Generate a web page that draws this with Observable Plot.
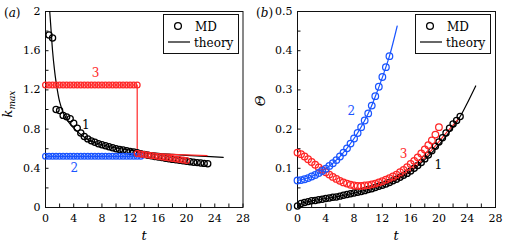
<!DOCTYPE html>
<html><head><meta charset="utf-8">
<script src="https://cdn.jsdelivr.net/npm/d3@7"></script>
<script src="https://cdn.jsdelivr.net/npm/@observablehq/plot@0.6"></script>
<style>
body{margin:0;background:#fff;}
#fig{position:relative;width:506px;height:243px;font-family:'DejaVu Serif',serif;}
.panel{position:absolute;top:0;}
#over{position:absolute;left:0;top:0;pointer-events:none;}
</style></head><body>
<div id="fig"><div id="pa" class="panel" style="left:0"></div><div id="pb" class="panel" style="left:253px"></div></div>
<script>
// ---------- colours ----------
const RED = "#ff2626", BLUE = "#1a55ff", BLACK = "#000";

// ---------- ticks ----------
const xMajor = [0, 4, 8, 12, 16, 20, 24, 28];
const xMinor = [2, 6, 10, 14, 18, 22, 26];
const yMajorA = [0, 0.4, 0.8, 1.2, 1.6, 2];
const yMinorA = [0.2, 0.6, 1.0, 1.4, 1.8];
const yMajorB = [0, 0.1, 0.2, 0.3, 0.4, 0.5];
const yMinorB = [0.05, 0.15, 0.25, 0.35, 0.45];

// ---------- panel (a): k_max ----------
const tA_md1 = [0.5,1,1.5,2,2.5,3,3.5,4,4.5,5,5.5,6,6.5,7,7.5,8,8.5,9,9.5,10,10.5,11,11.5,12,12.5,13,13.5,14,14.5,15,15.5,16,16.5,17,17.5,18,18.5,19,19.5,20,20.5,21,21.5,22,22.5,23];
const kA_md1 = [1.76,1.73,1.00,0.99,0.94,0.925,0.905,0.86,0.81,0.76,0.725,0.70,0.68,0.665,0.65,0.64,0.63,0.62,0.61,0.60,0.593,0.586,0.579,0.572,0.566,0.558,0.548,0.541,0.534,0.527,0.521,0.515,0.509,0.503,0.497,0.491,0.486,0.481,0.476,0.471,0.466,0.462,0.458,0.454,0.45,0.446];
const tA_md2 = [0,0.5,1,1.5,2,2.5,3,3.5,4,4.5,5,5.5,6,6.5,7,7.5,8,8.5,9,9.5,10,10.5,11,11.5,12,12.5,13,13.5];
const kA_md2 = [0.522,0.522,0.522,0.522,0.522,0.522,0.522,0.522,0.522,0.522,0.522,0.522,0.522,0.522,0.522,0.522,0.522,0.522,0.522,0.522,0.522,0.522,0.522,0.522,0.522,0.522,0.522,0.522];
const tA_md3 = [0,0.5,1,1.5,2,2.5,3,3.5,4,4.5,5,5.5,6,6.5,7,7.5,8,8.5,9,9.5,10,10.5,11,11.5,12,12.5,13,13,13.5,14,14.5,15,15.5,16,16.5,17,17.5,18,18.5,19,19.5,20];
const kA_md3 = [1.25,1.25,1.25,1.25,1.25,1.25,1.25,1.25,1.25,1.25,1.25,1.25,1.25,1.25,1.25,1.25,1.25,1.25,1.25,1.25,1.25,1.25,1.25,1.25,1.25,1.25,1.25,0.55,0.546,0.541,0.536,0.531,0.526,0.521,0.516,0.511,0.505,0.5,0.495,0.49,0.485,0.48];
const tA_th1 = [0.6,0.8,1.0,1.25,1.5,2.0,2.5,3,3.5,4,5,6,7,8,9,10,12,14,16,18,20,22,25.2];
const kA_th1 = [2.0,1.8,1.6,1.42,1.28,1.08,0.97,0.9,0.85,0.81,0.745,0.695,0.662,0.64,0.622,0.607,0.585,0.568,0.553,0.542,0.532,0.524,0.512];
const tA_th2 = [0, 13.5];
const kA_th2 = [0.522, 0.522];
const tA_th3 = [0, 13, 13, 22.9];
const kA_th3 = [1.25, 1.25, 0.555, 0.53];
const labA_t = [7.1, 5.7, 4.1];
const labA_v = [1.37, 0.84, 0.40];
const labA_s = ["3", "1", "2"];

// ---------- panel (b): Theta ----------
const tB_md1 = [0,0.5,1,1.5,2,2.5,3,3.5,4,4.5,5,5.5,6,6.5,7,7.5,8,8.5,9,9.5,10,10.5,11,11.5,12,12.5,13,13.5,14,14.5,15,15.5,16,16.5,17,17.5,18,18.5,19,19.5,20,20.5,21,21.5,22,22.5,23];
const vB_md1 = [0.004,0.010,0.013,0.015,0.017,0.018,0.020,0.021,0.023,0.024,0.026,0.027,0.029,0.031,0.033,0.035,0.037,0.039,0.041,0.043,0.046,0.048,0.051,0.054,0.057,0.060,0.064,0.068,0.072,0.077,0.082,0.087,0.093,0.100,0.107,0.115,0.124,0.134,0.145,0.156,0.167,0.178,0.190,0.202,0.213,0.222,0.232];
const tB_md2 = [0,0.5,1,1.5,2,2.5,3,3.5,4,4.5,5,5.5,6,6.5,7,7.5,8,8.5,9,9.5,10,10.5,11,11.5,12,12.5,13];
const vB_md2 = [0.069,0.070,0.072,0.075,0.079,0.083,0.088,0.093,0.099,0.106,0.113,0.121,0.130,0.140,0.151,0.163,0.176,0.190,0.205,0.222,0.240,0.260,0.284,0.308,0.333,0.358,0.386];
const tB_md3 = [0,0.5,1,1.5,2,2.5,3,3.5,4,4.5,5,5.5,6,6.5,7,7.5,8,8.5,9,9.5,10,10.5,11,11.5,12,12.5,13,13.5,14,14.5,15,15.5,16,16.5,17,17.5,18,18.5,19,19.5,20];
const vB_md3 = [0.140,0.136,0.130,0.123,0.116,0.109,0.102,0.096,0.090,0.084,0.078,0.073,0.068,0.064,0.061,0.058,0.056,0.055,0.055,0.056,0.057,0.059,0.061,0.064,0.067,0.071,0.075,0.079,0.084,0.090,0.096,0.103,0.111,0.119,0.128,0.138,0.148,0.159,0.171,0.186,0.205];
const tB_th1 = [0,0.3,0.6,1,2,4,6,8,10,12,14,16,18,20,22,23,24,25.2];
const vB_th1 = [0.0,0.007,0.011,0.013,0.017,0.023,0.029,0.037,0.046,0.057,0.071,0.092,0.122,0.16,0.205,0.232,0.266,0.31];
const tB_th2 = [0,2,4,6,8,10,11,12,13,14.1];
const vB_th2 = [0.069,0.079,0.099,0.13,0.176,0.24,0.283,0.332,0.386,0.463];
const tB_th3 = [13,14,15,16,17,18,19,20,21,22,22.7];
const vB_th3 = [0.063,0.071,0.081,0.094,0.109,0.127,0.147,0.168,0.19,0.21,0.225];
const labB_t = [7.6, 15.0, 19.9];
const labB_v = [0.247, 0.135, 0.107];
const labB_s = ["2", "3", "1"];

const rows = (ts, vs) => ts.map((t, i) => ({t, v: vs[i]}));
const FONT = "'DejaVu Serif', serif";

function panel({yDomain, yMajor, yMinor, ml, mr, lines, dots, labels}) {
  const W = 253, H = 243, mt = 11, mb = 36;
  const fw = W - ml - mr, fh = H - mt - mb;
  const marks = [
    Plot.frame({stroke: "#111", strokeWidth: 1}),
    Plot.tickX(xMinor.concat(xMajor), {x: d => d, insetTop: fh - 3.5, stroke: "#111"}),
    Plot.tickY(yMinor.concat(yMajor), {y: d => d, insetRight: fw - 3.5, stroke: "#111"}),
    Plot.axisX({ticks: xMajor, tickSize: 0, tickPadding: 7, label: null, tickFormat: d => String(d), fontSize: 11}),
    Plot.axisY({ticks: yMajor, tickSize: 0, tickPadding: 5, label: null, tickFormat: d => String(d), fontSize: 11})
  ];
  for (const L of lines) marks.push(Plot.line(L.data, {x: "t", y: "v", stroke: L.c, strokeWidth: 1.2, curve: L.curve || "catmull-rom"}));
  for (const D of dots) marks.push(Plot.dot(D.data, {x: "t", y: "v", r: D.r || 3, stroke: D.c, fill: "none", strokeWidth: 1.25}));
  marks.push(Plot.text(labels, {x: "t", y: "v", text: "s", fill: "c", fontSize: 12}));
  return Plot.plot({
    width: W, height: H, marginLeft: ml, marginRight: mr, marginTop: mt, marginBottom: mb,
    x: {domain: [0, 28]}, y: {domain: yDomain},
    style: {fontFamily: FONT, fontSize: "11px", background: "transparent", color: "#000"},
    marks
  });
}

const colorsA = [RED, BLACK, BLUE];
const colorsB = [BLUE, RED, BLACK];
const plotA = panel({
  yDomain: [0, 2], yMajor: yMajorA, yMinor: yMinorA, ml: 45, mr: 10.5,
  lines: [
    {data: rows(tA_th1, kA_th1), c: BLACK},
    {data: rows(tA_th2, kA_th2), c: BLUE, curve: "linear"},
    {data: rows(tA_th3, kA_th3), c: RED, curve: "linear"}
  ],
  dots: [
    {data: rows(tA_md1, kA_md1), c: BLACK, r: 3.1},
    {data: rows(tA_md2, kA_md2), c: BLUE, r: 2.9},
    {data: rows(tA_md3, kA_md3), c: RED, r: 2.9}
  ],
  labels: labA_t.map((t, i) => ({t, v: labA_v[i], s: labA_s[i], c: colorsA[i]}))
});
const plotB = panel({
  yDomain: [0, 0.5], yMajor: yMajorB, yMinor: yMinorB, ml: 44, mr: 11,
  lines: [
    {data: rows(tB_th1, vB_th1), c: BLACK},
    {data: rows(tB_th2, vB_th2), c: BLUE},
    {data: rows(tB_th3, vB_th3), c: RED}
  ],
  dots: [
    {data: rows(tB_md1, vB_md1), c: BLACK, r: 3.1},
    {data: rows(tB_md3, vB_md3), c: RED, r: 3.3},
    {data: rows(tB_md2, vB_md2), c: BLUE, r: 3.3}
  ],
  labels: labB_t.map((t, i) => ({t, v: labB_v[i], s: labB_s[i], c: colorsB[i]}))
});
document.getElementById("pa").appendChild(plotA);
document.getElementById("pb").appendChild(plotB);

// ---------- overlay: panel tags, axis titles, legends ----------
const svg = d3.select("#fig").append("svg").attr("id", "over").attr("width", 506).attr("height", 243)
  .attr("font-family", FONT);

function tag(x, letter) {
  const t = svg.append("text").attr("x", x).attr("y", 17).attr("font-size", 12);
  t.append("tspan").text("(");
  t.append("tspan").attr("font-style", "italic").text(letter);
  t.append("tspan").text(")");
}
tag(4, "a"); tag(256, "b");

svg.append("text").attr("x", 144).attr("y", 240).attr("text-anchor", "middle")
  .attr("font-size", 13).attr("font-style", "italic").text("t");
svg.append("text").attr("x", 396).attr("y", 240).attr("text-anchor", "middle")
  .attr("font-size", 13).attr("font-style", "italic").text("t");

const ky = svg.append("text").attr("transform", "translate(12,104) rotate(-90)")
  .attr("text-anchor", "middle").attr("font-size", 13).attr("font-style", "italic");
ky.append("tspan").text("k");
ky.append("tspan").attr("font-size", 9).attr("dy", 3).text("max");
svg.append("text").attr("transform", "translate(265,101) rotate(-90)")
  .attr("text-anchor", "middle").attr("font-size", 13).attr("font-style", "italic").text("Θ");

function legend(x0) {
  const g = svg.append("g").attr("transform", `translate(${x0},14)`);
  g.append("rect").attr("x", 0.5).attr("y", 0.5).attr("width", 75).attr("height", 39)
    .attr("fill", "#fff").attr("stroke", "#111");
  g.append("circle").attr("cx", 15).attr("cy", 12).attr("r", 3.4).attr("fill", "none").attr("stroke", "#000").attr("stroke-width", 1.3);
  g.append("text").attr("x", 32).attr("y", 16.5).attr("font-size", 12).text("MD");
  g.append("line").attr("x1", 5).attr("x2", 27).attr("y1", 28).attr("y2", 28).attr("stroke", "#000").attr("stroke-width", 1.2);
  g.append("text").attr("x", 31).attr("y", 32.5).attr("font-size", 12).text("theory");
}
legend(163); legend(415);
</script>
</body></html>
